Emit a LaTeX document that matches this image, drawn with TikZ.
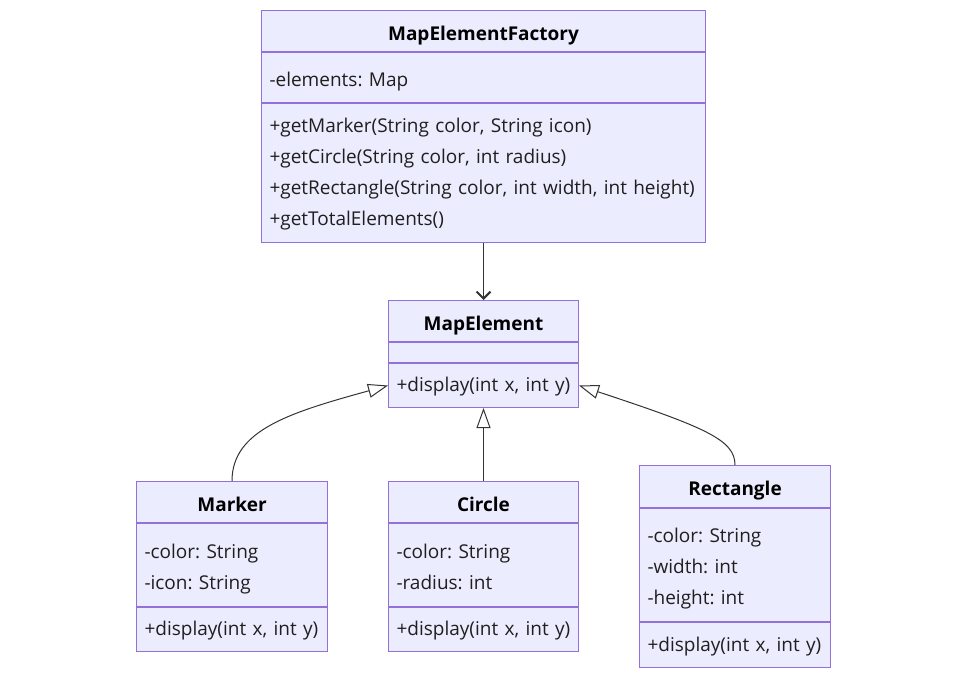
\documentclass[tikz,border=0pt]{standalone}
\usepackage{fontspec}
\setmainfont{Open Sans}
\usetikzlibrary{arrows.meta}
\definecolor{umlfill}{HTML}{ECECFF}
\definecolor{umlborder}{HTML}{9370DB}
\definecolor{umlline}{HTML}{333333}
\definecolor{umltext}{HTML}{1F1F1F}

\begin{document}
\frenchspacing
\begin{tikzpicture}[x=1pt,y=-1pt,
  part/.style={draw=umlborder,fill=umlfill,line width=1pt,anchor=north west,
    inner xsep=8pt,inner ysep=0pt,font=\fontsize{19}{31}\selectfont,text=umltext},
  class title/.style={part,font=\fontsize{19}{31}\selectfont\bfseries,text=black,
    execute at begin node={\rule[-5pt]{0pt}{28pt}}},
  members/.style={part,align=left,execute at end node={\rule[-5pt]{0pt}{0pt}}},
  attrs/.style={members,execute at begin node={\rule{0pt}{22pt}}},
  ops/.style={members,execute at begin node={\rule{0pt}{17pt}}},
  uses/.style={draw=umlline,line width=1pt,-{Straight Barb[length=7pt,width=14pt,line width=2pt]}},
  extends/.style={draw=umlline,line width=1pt,-{Triangle[open,fill=white,length=20pt,width=14pt]}}]
  \useasboundingbox (0,0) rectangle (966,675);

  % factory
  \node[class title, minimum width=444pt, minimum height=41pt] (factory) at (261,10) {MapElementFactory};
  \node[attrs, text width=428pt, minimum height=50pt] (factoryAttr) at (factory.south west) {-elements: Map};
  \node[ops, text width=428pt, minimum height=139pt] (factoryOps) at (factoryAttr.south west)
    {+getMarker(String color, String icon)\\ +getCircle(String color, int radius)\\
     +getRectangle(String color, int width, int height)\\ +getTotalElements()};

  % base class
  \node[class title, minimum width=190pt, minimum height=41pt] (elem) at (388,300) {MapElement};
  \node[part, minimum width=190pt, minimum height=20pt] (elemAttr) at (elem.south west) {};
  \node[ops, text width=174pt, minimum height=44pt] (elemOps) at (elemAttr.south west) {+display(int x, int y)};

  % subclasses
  \node[class title, minimum width=191pt, minimum height=41pt] (marker) at (136,481) {Marker};
  \node[attrs, text width=175pt, minimum height=83pt] (markerAttr) at (marker.south west)
    {-color: String\\ -icon: String};
  \node[ops, text width=175pt, minimum height=44pt] (markerOps) at (markerAttr.south west) {+display(int x, int y)};

  \node[class title, minimum width=190pt, minimum height=41pt] (circle) at (388,481) {Circle};
  \node[attrs, text width=174pt, minimum height=83pt] (circleAttr) at (circle.south west)
    {-color: String\\ -radius: int};
  \node[ops, text width=174pt, minimum height=44pt] (circleOps) at (circleAttr.south west) {+display(int x, int y)};

  \node[class title, minimum width=191pt, minimum height=42pt] (rect) at (639,465) {Rectangle};
  \node[attrs, text width=175pt, minimum height=113pt] (rectAttr) at (rect.south west)
    {-color: String\\ -width: int\\ -height: int};
  \node[ops, text width=175pt, minimum height=45pt] (rectOps) at (rectAttr.south west) {+display(int x, int y)};

  % connectors
  \draw[uses] (factoryOps.south) -- (elem.north);
  \draw[extends] (circle.north) -- (elemOps.south);
  \draw[extends] (marker.north) .. controls +(0,-51) and +(-98,27) .. (elemOps.west);
  \draw[extends] (rect.north) .. controls +(0,-25) and +(127,42) .. (elemOps.east);
\end{tikzpicture}
\end{document}
